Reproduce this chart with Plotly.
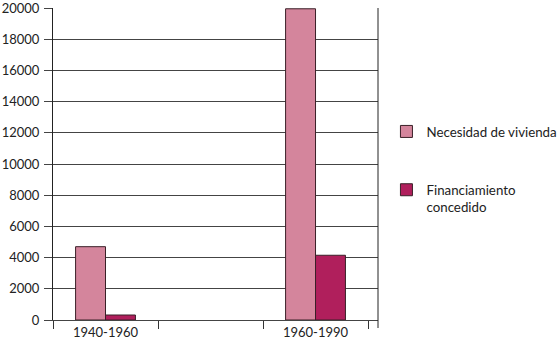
import plotly.graph_objects as go

categories = ["1940-1960", " ", "1960-1990"]
bar_categories = ["1940-1960", "1960-1990"]
necesidad = [4700, 19950]
financiamiento = [320, 4150]
series_names = ["Necesidad de vivienda", "Financiamiento<br>concedido"]
y_ticks = list(range(0, 20001, 2000))

FONT = "Lato"
fig = go.Figure()
fig.add_trace(go.Bar(
    x=bar_categories, y=necesidad, name=series_names[0], legendgroup="a",
    marker=dict(color="#D4859C", line=dict(color="#3a2028", width=1)),
))
fig.add_trace(go.Bar(
    x=bar_categories, y=financiamiento, name=series_names[1], legendgroup="b",
    marker=dict(color="#B01F5C", line=dict(color="#3a2028", width=1)),
))

fig.update_layout(
    width=560, height=346,
    margin=dict(l=53, r=182, t=8, b=26, autoexpand=False),
    paper_bgcolor="white", plot_bgcolor="white",
    barmode="group", bargap=0.43, bargroupgap=0,
    font=dict(family=FONT, size=13, color="#222"),
    legend=dict(
        x=1.026, y=0.483, xanchor="left", yanchor="middle",
        tracegroupgap=38, valign="top", traceorder="grouped",
        font=dict(family=FONT, size=13.3, color="#222"),
        bgcolor="rgba(0,0,0,0)",
    ),
    xaxis=dict(
        type="category", categoryorder="array", categoryarray=categories,
        range=[-0.5, 2.595], tickson="boundaries", ticks="outside", ticklen=8,
        tickcolor="#333", showline=True, linecolor="#444", linewidth=1,
        showgrid=False, tickfont=dict(size=13, color="#222"), automargin=False,
    ),
    yaxis=dict(
        range=[0, 20000], tickvals=y_ticks, tickformat="d", ticks="outside", ticklen=8,
        tickcolor="#444", showgrid=True, gridcolor="#444", gridwidth=1,
        showline=True, linecolor="#222", linewidth=1, zeroline=False,
        tickfont=dict(size=13, color="#222"), ticklabelstandoff=2, automargin=False,
        ticklabeloverflow="allow",
    ),
    shapes=[dict(type="line", xref="paper", yref="paper", x0=1, x1=1,
                 y0=-8/312, y1=1, line=dict(color="#222", width=1))],
)

fig.write_html("out.html", config={"displayModeBar": False},
               post_script="document.body.style.margin='0';")
